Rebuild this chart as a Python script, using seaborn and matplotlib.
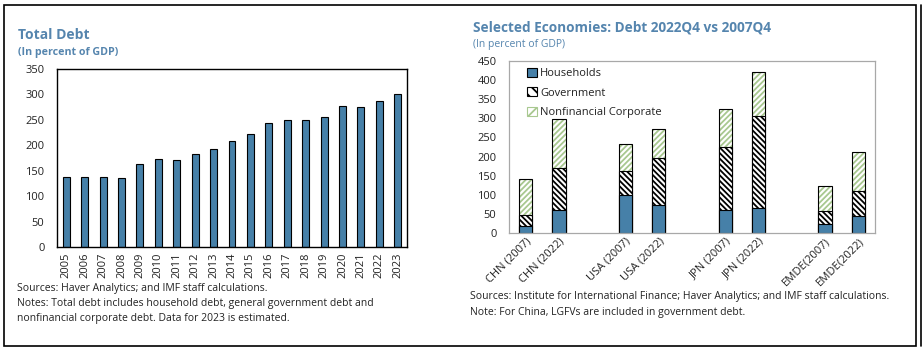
import matplotlib
matplotlib.use("Agg")
import matplotlib.pyplot as plt
import matplotlib.patches as mpatches
import matplotlib.lines as mlines
import seaborn as sns
import pandas as pd
import numpy as np

# ---------------- data ----------------
years = ["2005", "2006", "2007", "2008", "2009", "2010", "2011", "2012", "2013", "2014",
         "2015", "2016", "2017", "2018", "2019", "2020", "2021", "2022", "2023"]
total_debt = [137, 137, 137, 135, 163, 173, 171, 183, 193, 209,
              223, 243, 249, 249, 255, 277, 275, 287, 300]

economies = ["CHN (2007)", "CHN (2022)", "USA (2007)", "USA (2022)",
             "JPN (2007)", "JPN (2022)", "EMDE(2007)", "EMDE(2022)"]
households = [19, 60, 100, 74, 59, 66, 24, 45]
government = [28, 111, 63, 121, 165, 239, 34, 66]
corporate = [95, 126, 69, 76, 100, 115, 66, 102]
gap_slots = ["", " ", "  "]
slot_order = [economies[0], economies[1], gap_slots[0], economies[2], economies[3], gap_slots[1],
              economies[4], economies[5], gap_slots[2], economies[6], economies[7]]

# ---------------- style ----------------
sns.set_theme(style="white")
plt.rcParams["font.family"] = ["Open Sans", "DejaVu Sans"]
plt.rcParams["hatch.linewidth"] = 1.3

BLUE = "#4680A8"
TITLE = "#5585AE"
GREEN = "#A8C890"
DARK = "#222222"
GOV_HATCH = "\\" * 6
CORP_HATCH = "/" * 6

fig = plt.figure(figsize=(9.24, 3.51), dpi=100)
W, H = 924, 351

def ax_rect(x0, y0, x1, y1):
    return [x0 / W, 1 - y1 / H, (x1 - x0) / W, (y1 - y0) / H]

# outer frame
fig.patches.append(mpatches.Rectangle((4 / W, 1 - 346 / H), 912 / W, 341 / H,
                                      transform=fig.transFigure, fill=False,
                                      edgecolor="black", linewidth=1.2))
fig.lines.append(mlines.Line2D([921 / W, 921 / W], [1 - 346 / H, 1 - 5 / H],
                               transform=fig.transFigure, color="black", linewidth=1.2))

# ---------------- left chart ----------------
axL = fig.add_axes(ax_rect(57, 69, 407, 247))
dfL = pd.DataFrame({"year": years, "debt": total_debt})
sns.barplot(data=dfL, x="year", y="debt", ax=axL, color=BLUE, width=0.38,
            edgecolor="black", linewidth=0.8, saturation=1)
axL.set_ylim(0, 350)
axL.set_yticks(np.arange(0, 351, 50))
axL.set_xlim(-0.5, len(years) - 0.5)
axL.set_xlabel("")
axL.set_ylabel("")
for s in axL.spines.values():
    s.set_color("black")
    s.set_linewidth(1.0)
axL.tick_params(axis="y", direction="in", length=4, width=0.8, color="black",
                labelsize=8, labelcolor=DARK, pad=9)
axL.tick_params(axis="x", length=0, labelsize=8, labelcolor=DARK, pad=4)
plt.setp(axL.get_xticklabels(), rotation=90)

fig.text(18 / W, 1 - 35 / H, "Total Debt", fontsize=10, fontweight="bold",
         color=TITLE, va="center", ha="left")
fig.text(18 / W, 1 - 53 / H, "(In percent of GDP)", fontsize=7.7, fontweight="bold",
         color=TITLE, va="center", ha="left")
fig.text(17 / W, 1 - 289 / H, "Sources: Haver Analytics; and IMF staff calculations.",
         fontsize=7.5, color=DARK, va="center", ha="left")
fig.text(17 / W, 1 - 303.5 / H,
         "Notes: Total debt includes household debt, general government debt and",
         fontsize=7.5, color=DARK, va="center", ha="left")
fig.text(17 / W, 1 - 318 / H,
         "nonfinancial corporate debt. Data for 2023 is estimated.",
         fontsize=7.5, color=DARK, va="center", ha="left")

# ---------------- right chart ----------------
axR = fig.add_axes(ax_rect(509, 61, 875, 233))
dfR = pd.DataFrame({"econ": economies, "hh": households, "gov": government, "corp": corporate})
dfR["hg"] = dfR["hh"] + dfR["gov"]
dfR["tot"] = dfR["hg"] + dfR["corp"]

common = dict(data=dfR, x="econ", order=slot_order, ax=axR, width=0.4, saturation=1)
# corporate (total height), green hatch
sns.barplot(y="tot", color="white", edgecolor=GREEN, hatch=CORP_HATCH, linewidth=0, **common)
# outline of total
sns.barplot(y="tot", fill=False, edgecolor="black", linewidth=0.8, **common)
# government (households + government)
sns.barplot(y="hg", color="white", edgecolor="black", hatch=GOV_HATCH, linewidth=0.8, **common)
# households
sns.barplot(y="hh", color=BLUE, edgecolor="black", linewidth=0.8, **common)

axR.set_ylim(0, 450)
axR.set_yticks(np.arange(0, 451, 50))
axR.set_xlim(-0.5, len(slot_order) - 0.5)
axR.set_xlabel("")
axR.set_ylabel("")
for s in axR.spines.values():
    s.set_color("#A8A8A8")
    s.set_linewidth(0.9)
axR.tick_params(axis="y", direction="in", length=4, width=0.8, color="#A8A8A8",
                labelsize=8, labelcolor=DARK, pad=9)
axR.tick_params(axis="x", length=0, labelsize=8, labelcolor=DARK, pad=2)
axR.set_xticks(range(len(slot_order)))
axR.set_xticklabels([s.strip() and s for s in slot_order], rotation=45, ha="right",
                    rotation_mode="anchor")

h_hh = mpatches.Patch(facecolor=BLUE, edgecolor="black", linewidth=0.8, label="Households")
h_gov = mpatches.Patch(facecolor="white", edgecolor="black", hatch="\\\\\\", linewidth=0.8,
                       label="Government")
h_corp = mpatches.Patch(facecolor="white", edgecolor=GREEN, hatch="///", linewidth=0.8,
                        label="Nonfinancial Corporate")
leg = axR.legend(handles=[h_hh, h_gov, h_corp], loc="upper left", frameon=False,
                 fontsize=8, handlelength=0.9, handleheight=0.9, handletextpad=0.3,
                 labelspacing=0.72, bbox_to_anchor=(0.03, 1.0), borderaxespad=0.2)
for t in leg.get_texts():
    t.set_color(DARK)

fig.text(473 / W, 1 - 28 / H, "Selected Economies: Debt 2022Q4 vs 2007Q4", fontsize=9.8,
         fontweight="bold", color=TITLE, va="center", ha="left")
fig.text(473 / W, 1 - 45 / H, "(In percent of GDP)", fontsize=7.5,
         color=TITLE, va="center", ha="left")
fig.text(470 / W, 1 - 297 / H,
         "Sources: Institute for International Finance; Haver Analytics; and IMF staff calculations.",
         fontsize=7.5, color=DARK, va="center", ha="left")
fig.text(470 / W, 1 - 312 / H, "Note: For China, LGFVs are included in government debt.",
         fontsize=7.5, color=DARK, va="center", ha="left")

fig.savefig("out.png", dpi=100)
